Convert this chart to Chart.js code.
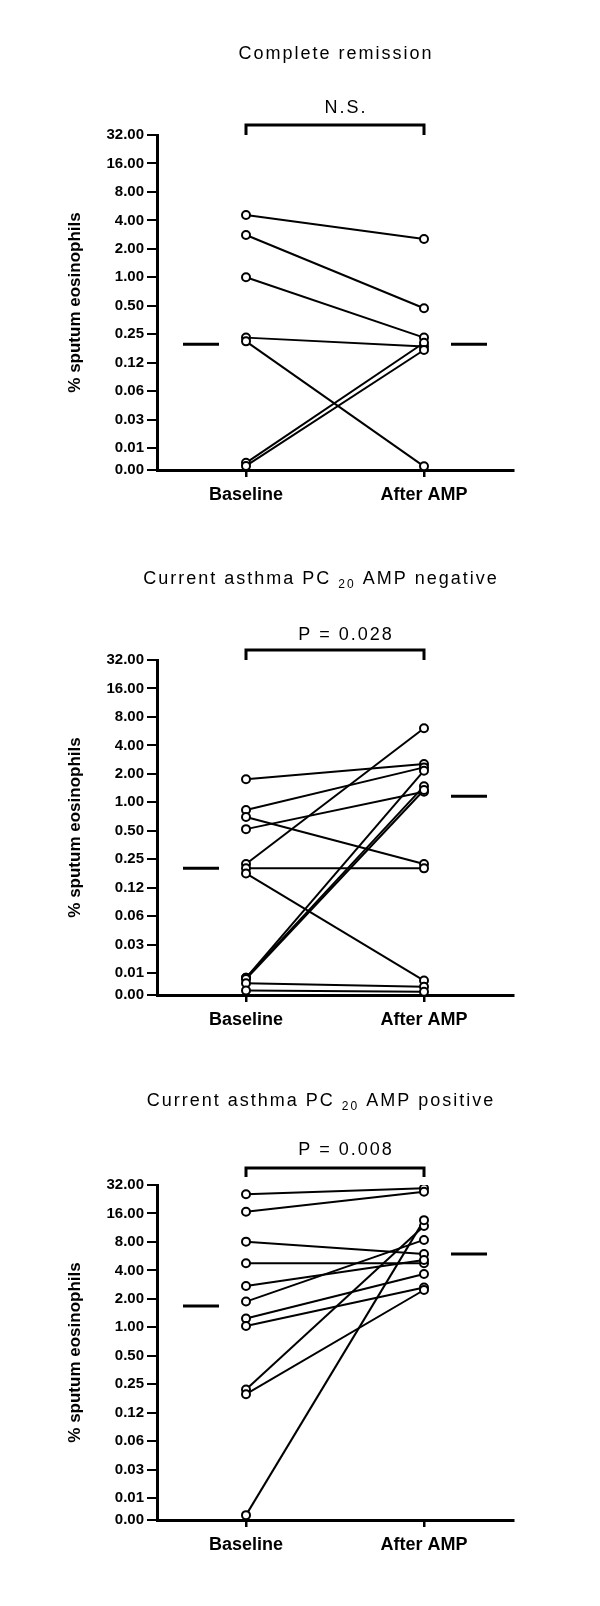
<!DOCTYPE html>
<html>
<head>
<meta charset="utf-8">
<script src="https://cdn.jsdelivr.net/npm/chart.js@4.4.1/dist/chart.umd.min.js"></script>
<style>
  html, body { margin: 0; padding: 0; background: #fff; }
  body { width: 600px; height: 1606px; position: relative; overflow: hidden; }
  canvas { position: absolute; left: 0; }
</style>
</head>
<body>
<canvas id="remission" width="600" height="525" style="top:0px"></canvas>
<canvas id="negative" width="600" height="525" style="top:525px"></canvas>
<canvas id="positive" width="600" height="525" style="top:1050px"></canvas>
<script>
const categories = ['Baseline', 'After AMP'];
const tickValues = [0.00915, 0.015625, 0.03125, 0.0625, 0.125, 0.25, 0.5, 1, 2, 4, 8, 16, 32];
const tickLabels = ['0.00', '0.01', '0.03', '0.06', '0.12', '0.25', '0.50', '1.00', '2.00', '4.00', '8.00', '16.00', '32.00'];
const yTitle = '% sputum eosinophils';

// complete remission
const remissionBaseline = [4.55, 2.8, 1.0, 0.23, 0.21, 0.0109, 0.0101];
const remissionAfter = [2.54, 0.47, 0.23, 0.185, 0.0100, 0.203, 0.17];
const remissionMedians = [0.196, 0.196];

// current asthma, PC20 AMP negative
const negativeBaseline = [1.75, 0.83, 0.52, 0.70, 0.222, 0.20, 0.177, 0.0139, 0.0139, 0.0135, 0.0122, 0.0102];
const negativeAfter = [2.54, 2.34, 1.29, 0.222, 6.06, 0.20, 0.013, 2.16, 1.48, 1.35, 0.0112, 0.0099];
const negativeMedians = [0.2, 1.16];

// current asthma, PC20 AMP positive
const positiveBaseline = [25.5, 16.7, 8.05, 4.75, 2.73, 1.87, 1.24, 1.03, 0.22, 0.196, 0.0103];
const positiveAfter = [29.5, 27.2, 5.95, 4.75, 5.14, 8.4, 3.66, 2.64, 11.8, 2.48, 13.6];
const positiveMedians = [1.68, 5.95];

// titles: odd entries are subscripts
const panels = [
    { id: 'remission', title: ['Complete remission'], pText: 'N.S.',
      baseline: remissionBaseline, after: remissionAfter, medians: remissionMedians,
      titleX: 336, titleY: 54, pY: 108, bracketY: 125, legY: 135 },
    { id: 'negative', title: ['Current asthma PC ', '20', ' AMP negative'], pText: 'P = 0.028',
      baseline: negativeBaseline, after: negativeAfter, medians: negativeMedians,
      titleX: 321, titleY: 54, pY: 110, bracketY: 125, legY: 135 },
    { id: 'positive', title: ['Current asthma PC ', '20', ' AMP positive'], pText: 'P = 0.008',
      baseline: positiveBaseline, after: positiveAfter, medians: positiveMedians,
      titleX: 321, titleY: 51, pY: 100, bracketY: 118, legY: 127 }
];

const FONT = "'Liberation Sans', Arial, Helvetica, sans-serif";
Chart.defaults.font.family = FONT;
Chart.defaults.color = '#000';

const decorations = {
    id: 'decorations',
    afterDraw(chart, args, opts) {
        const p = opts.panel;
        const ctx = chart.ctx;
        const xs = chart.scales.x, ys = chart.scales.y;
        const xb = xs.getPixelForValue(0), xa = xs.getPixelForValue(1);
        ctx.save();
        ctx.fillStyle = '#000';
        ctx.strokeStyle = '#000';
        ctx.textBaseline = 'middle';

        // title with subscript
        ctx.letterSpacing = '2px';
        ctx.textAlign = 'left';
        const fonts = p.title.map((t, i) => i % 2 ? '12px ' + FONT : '18px ' + FONT);
        const widths = p.title.map((t, i) => { ctx.font = fonts[i]; return ctx.measureText(t).width; });
        let tx = p.titleX - widths.reduce((a, b) => a + b, 0) / 2;
        p.title.forEach((t, i) => {
            ctx.font = fonts[i];
            ctx.fillText(t, tx, p.titleY + (i % 2 ? 6 : 0));
            tx += widths[i];
        });

        // p value + bracket
        ctx.font = '18px ' + FONT;
        ctx.textAlign = 'center';
        ctx.fillText(p.pText, 346, p.pY);
        ctx.lineWidth = 3;
        ctx.lineJoin = 'miter';
        ctx.beginPath();
        ctx.moveTo(xb, p.legY);
        ctx.lineTo(xb, p.bracketY);
        ctx.lineTo(xa, p.bracketY);
        ctx.lineTo(xa, p.legY);
        ctx.stroke();

        // medians
        ctx.lineWidth = 3;
        [[xb - 45, p.medians[0]], [xa + 45, p.medians[1]]].forEach(([cx, v]) => {
            const yy = ys.getPixelForValue(v);
            ctx.beginPath();
            ctx.moveTo(cx - 18, yy);
            ctx.lineTo(cx + 18, yy);
            ctx.stroke();
        });

        // y axis title
        ctx.letterSpacing = '0px';
        ctx.font = 'bold 17px ' + FONT;
        ctx.translate(75, (chart.chartArea.top + chart.chartArea.bottom) / 2);
        ctx.rotate(-Math.PI / 2);
        ctx.fillText(yTitle, 0, 0);
        ctx.restore();
    }
};

panels.forEach(p => {
    const lineSets = p.baseline.map((b, i) => ({
        data: [b, p.after[i]],
        borderColor: '#000',
        borderWidth: 2,
        pointRadius: 0,
        order: 1
    }));
    const pointSet = {
        data: p.baseline.map(v => ({ x: categories[0], y: v }))
            .concat(p.after.map(v => ({ x: categories[1], y: v }))),
        showLine: false,
        pointRadius: 4,
        pointBorderWidth: 2,
        pointBorderColor: '#000',
        pointBackgroundColor: '#fff',
        order: 0
    };

    new Chart(document.getElementById(p.id), {
        type: 'line',
        data: { labels: categories, datasets: lineSets.concat([pointSet]) },
        plugins: [decorations],
        options: {
            responsive: false,
            animation: false,
            devicePixelRatio: 1,
            layout: { padding: { top: 135, right: 87, left: 0, bottom: 0 } },
            plugins: {
                legend: { display: false },
                tooltip: { enabled: false },
                decorations: { panel: p }
            },
            scales: {
                x: {
                    type: 'category',
                    offset: true,
                    afterFit: s => { s.height = 55; },
                    grid: { offset: false, drawOnChartArea: false, tickLength: 7, lineWidth: 2.5, color: '#000' },
                    border: { display: true, width: 3, color: '#000' },
                    ticks: { font: { size: 18, weight: 'bold' }, color: '#000', padding: 7 }
                },
                y: {
                    type: 'logarithmic',
                    min: tickValues[0],
                    max: tickValues[tickValues.length - 1],
                    afterFit: s => { s.width = 157; },
                    afterBuildTicks: s => { s.ticks = tickValues.map(v => ({ value: v })); },
                    grid: { drawOnChartArea: false, tickLength: 10, lineWidth: 2, color: '#000' },
                    border: { display: true, width: 3, color: '#000' },
                    ticks: {
                        autoSkip: false,
                        padding: 3,
                        font: { size: 15, weight: 'bold' },
                        color: '#000',
                        callback: (v, i) => tickLabels[i]
                    }
                }
            }
        }
    });
});
</script>
</body>
</html>
